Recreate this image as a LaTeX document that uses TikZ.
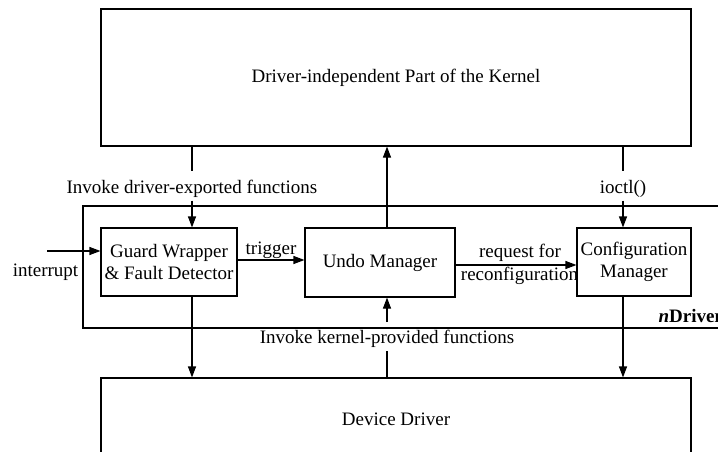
\documentclass[tikz,border=0pt]{standalone}
\usepackage{fontspec}
\setmainfont{Liberation Serif}
\usetikzlibrary{arrows.meta}
\newcommand{\diafont}{\fontsize{19}{22.7}\selectfont}
\begin{document}
\begin{tikzpicture}[x=1pt,y=-1pt,line width=1.1pt,
  box/.style={draw,fill=white,inner sep=0pt,align=center,font=\diafont},
  frame/.style={draw,inner sep=0pt},
  txt/.style={inner sep=0pt,font=\diafont},
  arr/.style={-{Triangle[length=11pt,width=8pt]}}]
\useasboundingbox (0,0) rectangle (718,452);
\fill[white] (0,0) rectangle (718,452);
\clip (0,0) rectangle (718,452);

% outer boxes
\node[box,minimum width=590pt,minimum height=137pt] (kernel) at (396,77.5) {Driver-independent Part of the Kernel};
\node[frame,minimum width=657pt,minimum height=122pt] (ndriver) at (411.5,267) {};
\node[box,minimum width=590pt,minimum height=82pt] (device) at (396,419) {Device Driver};

% labels
\node[txt,anchor=base] (lblexp) at (192,193) {Invoke driver-exported functions};
\node[txt,anchor=base] (lblioctl) at (623,193) {ioctl()};
\node[txt,anchor=base] (lblkern) at (387,343) {Invoke kernel-provided functions};
\node[txt,anchor=base] (lblint) at (45.5,276) {interrupt};
\node[txt,anchor=base] (lbltrig) at (271,254) {trigger};
\node[txt,anchor=base] (lblreq1) at (520,257) {request for};
\node[txt,anchor=base] (lblreq2) at (519.5,280) {reconfiguration};
\node[txt,anchor=base west] (lblnd) at (658,322) {\textbf{\textit{n}Driver}};

% inner boxes
\node[box,minimum width=136pt,minimum height=68pt] (guard) at (169,262) {Guard Wrapper\\\& Fault Detector};
\node[box,minimum width=150pt,minimum height=69pt] (undo) at (380,262.5) {Undo Manager};
\node[box,minimum width=114pt,minimum height=68pt] (config) at (634,262) {Configuration\\Manager};

\coordinate (intin) at (47,251);

% connectors
\draw (kernel.south -| lblexp) -- ([yshift=8pt]lblexp.north);
\draw[arr] ([yshift=-3pt]lblexp.south) -- (lblexp.south |- guard.north);
\draw (kernel.south -| lblioctl) -- ([yshift=8pt]lblioctl.north);
\draw[arr] ([yshift=-3pt]lblioctl.south) -- (lblioctl.south |- config.north);
\draw[arr] (undo.north -| lblkern) -- (lblkern |- kernel.south);
\draw[arr] (intin) -- (intin -| guard.west);
\draw[arr] (guard.east |- 0,260) -- (undo.west |- 0,260);
\draw[arr] (undo.east |- 0,265) -- (config.west |- 0,265);
\draw (device.north -| lblkern) -- ([yshift=-3pt]lblkern.south);
\draw[arr] ([yshift=7pt]lblkern.north) -- (lblkern.north |- undo.south);
\draw[arr] (guard.south -| lblexp) -- (lblexp |- device.north);
\draw[arr] (config.south -| lblioctl) -- (lblioctl |- device.north);
\end{tikzpicture}
\end{document}
